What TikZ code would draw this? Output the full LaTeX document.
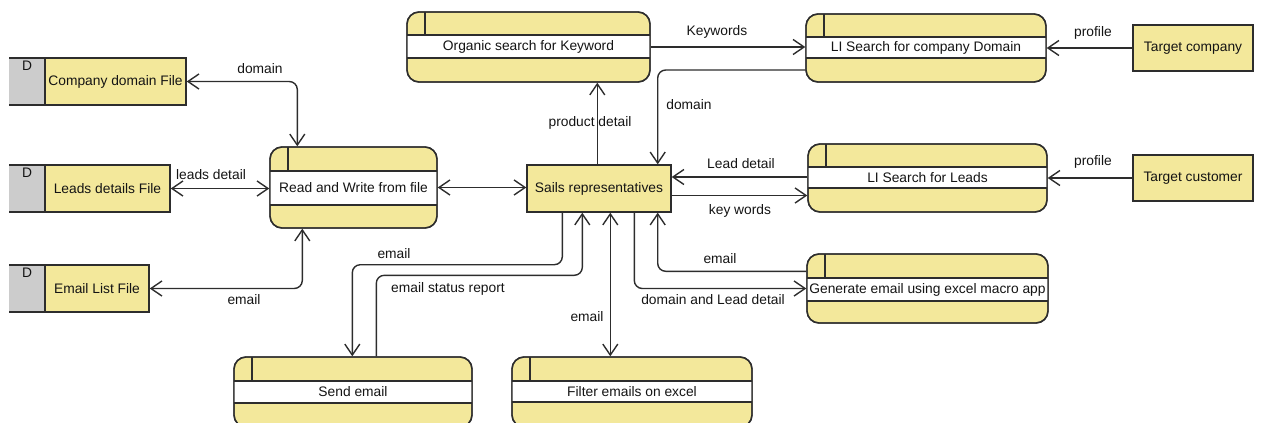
\documentclass[tikz,border=0pt]{standalone}
\usepackage{fontspec}
\setmainfont{Liberation Sans}
\usetikzlibrary{arrows.meta,fit}
\definecolor{yel}{RGB}{243,232,155}
\definecolor{gry}{RGB}{204,204,204}
\definecolor{ln}{RGB}{45,45,45}
\definecolor{txt}{RGB}{20,20,20}
\tikzset{
  txtnode/.style={font=\fontsize{13.8}{16}\selectfont, text=txt, inner sep=0pt},
  procbox/.style={draw=ln, fill=yel, line width=1.4pt, rounded corners=12pt, inner sep=0pt},
  storebox/.style={draw=ln, fill=yel, line width=1.4pt, inner sep=0pt},
  extbox/.style={draw=ln, fill=yel, line width=1.4pt, inner sep=0pt, font=\fontsize{13.8}{16}\selectfont, text=txt},
  conn/.style={draw=ln, line width=1.4pt, rounded corners=8pt},
  one/.style={conn, -{Straight Barb[length=11pt,width=15pt]}},
  both/.style={conn, {Straight Barb[length=11pt,width=15pt]}-{Straight Barb[length=11pt,width=15pt]}},
}
\newcommand{\procshape}[8]{%
  \node[procbox, fit={(#2,#3) (#4,#5)}] (#1) {};
  \fill[white] (#2,#6) rectangle (#4,#7);
  \draw[ln, line width=1.4pt] (#2,#6) -- (#4,#6) (#2,#7) -- (#4,#7) (#2+18,#3) -- (#2+18,#6);
  \draw[ln, line width=1.4pt, rounded corners=12pt] (#2,#3) rectangle (#4,#5);
  \node[txtnode] (#1-text) at ({(#2+#4)/2},{(#6+#7)/2}) {#8};
}
\newcommand{\storeshape}[6]{%
  \node[storebox, fit={(#2+36,#3) (#4,#5)}] (#1) {};
  \fill[gry] (#2,#3) rectangle (#2+36,#5);
  \draw[ln, line width=1.4pt] (#2,#3) -- (#2+36,#3) (#2,#5) -- (#2+36,#5) (#2+36,#3) -- (#2+36,#5);
  \node[txtnode] (#1-d) at (#2+18,#3+8) {D};
  \node[txtnode] (#1-text) at (#1.center) {#6};
}
\begin{document}
\begin{tikzpicture}[x=1pt,y=-1pt]
\useasboundingbox (0,0) rectangle (1261,423);
\clip (0,0) rectangle (1261,423);

% data stores
\storeshape{cdf}{9}{58}{186}{105}{Company domain File}
\storeshape{ldf}{9}{165}{170}{212}{Leads details File}
\storeshape{elf}{9}{265}{149}{312}{Email List File}

% processes
\procshape{rw}{270}{147}{437}{228}{171}{205}{Read and Write from file}
\procshape{org}{407}{12}{650}{82}{35}{58}{Organic search for Keyword}
\procshape{lid}{806}{14}{1046}{82}{37}{58}{LI Search for company Domain}
\procshape{lil}{808}{144}{1047}{212}{167}{188}{LI Search for Leads}
\procshape{gen}{807}{254}{1048}{323}{278}{301}{Generate email using excel macro app}
\procshape{se}{234}{357}{472}{427}{381}{403}{Send email}
\procshape{fe}{512}{357}{752}{427}{381}{402}{Filter emails on excel}

% external entities
\node[extbox, minimum width=144pt, minimum height=47pt] (sr) at (599,188.5) {Sails representatives};
\node[extbox, minimum width=120pt, minimum height=46pt] (tc) at (1193,48) {Target company};
\node[extbox, minimum width=120pt, minimum height=46pt] (tcu) at (1193,178) {Target customer};

% connectors
\draw[both] (cdf.east) -| ([xshift=28pt]rw.north west);
\draw[both] (ldf.east) -- (ldf.east -| rw.west);
\draw[both] (elf.east) -| ([xshift=33pt]rw.south west);
\draw[both] (rw.east) -- (rw.east -| sr.west);
\draw[one] ([xshift=71pt]sr.north west) -- ([xshift=71pt]sr.north west |- org.south);
\draw[one] (org.east) -- (org.east -| lid.west);
\draw[one] ([yshift=-22pt]lid.west) -| ([xshift=-14pt]sr.north east);
\draw[one] (tc.west) -- (tc.west -| lid.east);
\draw[one] (tcu.west) -- (tcu.west -| lil.east);
\draw[one] ([yshift=1pt]lil.west) -- ([yshift=1pt]lil.west -| sr.east);
\draw[one] ([yshift=-7pt]sr.east) -- ([yshift=-7pt]sr.east -| lil.west);
\draw[one] ([yshift=-18pt]gen.north west) -| ([xshift=-14pt]sr.south east);
\draw[one] ([xshift=108pt]sr.south west) |- (gen.west);
\draw[one] ([xshift=36pt]sr.south west) -- ++(0,52) -| ([xshift=119pt]se.north west);
\draw[one] ([xshift=143pt]se.north west) -- ++(0,-81) -| ([xshift=56pt]sr.south west);
\draw[both] ([xshift=84pt]sr.south west) -- ([xshift=84pt]sr.south west |- fe.north);

% labels
\node[txtnode] (l1) at (260,69) {domain};
\node[txtnode] (l2) at (211,175) {leads detail};
\node[txtnode] (l3) at (244,300) {email};
\node[txtnode] (l4) at (590,123) {product detail};
\node[txtnode] (l5) at (717,32) {Keywords};
\node[txtnode] (l6) at (689,105) {domain};
\node[txtnode] (l7) at (1093,33) {profile};
\node[txtnode] (l8) at (1093,162) {profile};
\node[txtnode] (l9) at (741,164) {Lead detail};
\node[txtnode] (l10) at (740,211) {key words};
\node[txtnode] (l11) at (720,259) {email};
\node[txtnode] (l12) at (713,300) {domain and Lead detail};
\node[txtnode] (l13) at (394,254) {email};
\node[txtnode] (l14) at (448,289) {email status report};
\node[txtnode] (l15) at (587,317) {email};
\end{tikzpicture}
\end{document}
